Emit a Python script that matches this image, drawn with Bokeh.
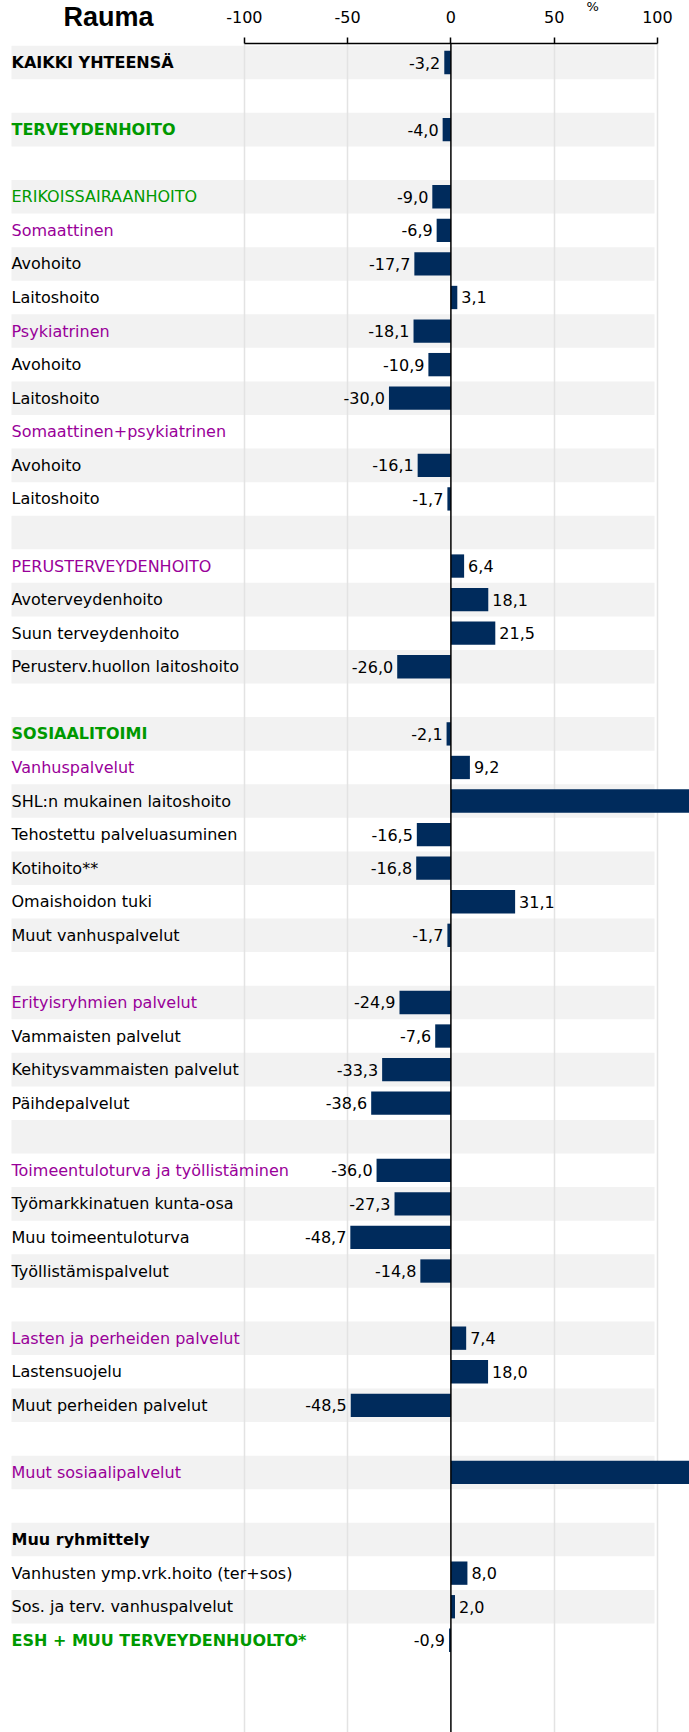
from bokeh.plotting import figure
from bokeh.models import (ColumnDataSource, Range1d, LinearAxis, FixedTicker,
                          Span, Title)
from bokeh.core.properties import value
from bokeh.embed import file_html
from bokeh.resources import INLINE

# ---------------- data ----------------
categories = [
    "KAIKKI YHTEENSÄ", "", "TERVEYDENHOITO", "", "ERIKOISSAIRAANHOITO",
    "Somaattinen", "Avohoito", "Laitoshoito", "Psykiatrinen", "Avohoito",
    "Laitoshoito", "Somaattinen+psykiatrinen", "Avohoito", "Laitoshoito", "",
    "PERUSTERVEYDENHOITO", "Avoterveydenhoito", "Suun terveydenhoito",
    "Perusterv.huollon laitoshoito", "", "SOSIAALITOIMI", "Vanhuspalvelut",
    "SHL:n mukainen laitoshoito", "Tehostettu palveluasuminen", "Kotihoito**",
    "Omaishoidon tuki", "Muut vanhuspalvelut", "", "Erityisryhmien palvelut",
    "Vammaisten palvelut", "Kehitysvammaisten palvelut", "Päihdepalvelut", "",
    "Toimeentuloturva ja työllistäminen", "Työmarkkinatuen kunta-osa",
    "Muu toimeentuloturva", "Työllistämispalvelut", "",
    "Lasten ja perheiden palvelut", "Lastensuojelu", "Muut perheiden palvelut", "",
    "Muut sosiaalipalvelut", "", "Muu ryhmittely",
    "Vanhusten ymp.vrk.hoito (ter+sos)", "Sos. ja terv. vanhuspalvelut",
    "ESH + MUU TERVEYDENHUOLTO*",
]
N = None
values = [
    -3.2, N, -4.0, N, -9.0,
    -6.9, -17.7, 3.1, -18.1, -10.9,
    -30.0, N, -16.1, -1.7, N,
    6.4, 18.1, 21.5, -26.0, N,
    -2.1, 9.2, 130.0, -16.5, -16.8,
    31.1, -1.7, N, -24.9,
    -7.6, -33.3, -38.6, N,
    -36.0, -27.3, -48.7, -14.8, N,
    7.4, 18.0, -48.5, N,
    125.0, N, N,
    8.0, 2.0, -0.9,
]
# label style: k = black, kb = black bold, g = green, gb = green bold, p = purple
styles = [
    "kb", "k", "gb", "k", "g",
    "p", "k", "k", "p", "k",
    "k", "p", "k", "k", "k",
    "p", "k", "k", "k", "k",
    "gb", "p", "k", "k", "k",
    "k", "k", "k", "p",
    "k", "k", "k", "k",
    "p", "k", "k", "k", "k",
    "p", "k", "k", "k",
    "p", "k", "kb",
    "k", "k", "gb",
]
tick_values = [-100, -50, 0, 50, 100]
tick_labels = ["-100", "-50", "0", "50", "100"]
title_text = "Rauma"
unit_text = "%"

# ---------------- layout ----------------
W, H = 689, 1732
ZERO_PX = 450.4
PX_PER_UNIT = 2.065
ROW0_PX = 62.0
ROW_PITCH = 33.57
TOP_PX = 43

x_start = -ZERO_PX / PX_PER_UNIT
x_end = (W - ZERO_PX) / PX_PER_UNIT
y_top = (TOP_PX - ROW0_PX) / ROW_PITCH
y_bottom = (H - ROW0_PX) / ROW_PITCH

def px_to_x(px):
    return (px - ZERO_PX) / PX_PER_UNIT

COLORS = {"k": "#000000", "kb": "#000000", "g": "#009900", "gb": "#009900", "p": "#990099"}
BAR_COLOR = "#002b5c"
FONT = "DejaVu Sans"

p = figure(width=W, height=H, output_backend="svg", toolbar_location=None,
           x_range=Range1d(x_start, x_end), y_range=Range1d(y_bottom, y_top),
           x_axis_location=None, y_axis_location=None,
           min_border_top=TOP_PX, min_border_left=0, min_border_right=0,
           min_border_bottom=0, outline_line_color=None)
p.background_fill_color = "white"
p.border_fill_color = "white"

rows = list(range(len(categories)))

# alternating row bands
band_rows = [r for r in rows if r % 2 == 0]
bands = p.hbar(y=band_rows, left=px_to_x(11), right=px_to_x(654), height=1.0,
               fill_color="#f2f2f2", line_color=None)
bands.level = "image"

# grid
p.ygrid.visible = False
p.xgrid.ticker = FixedTicker(ticks=[t for t in tick_values if t != 0])
p.xgrid.grid_line_color = "#e3e3e3"
p.xgrid.grid_line_width = 1.5

# bars
bar_rows = [r for r in rows if values[r] is not None]
bar_vals = [values[r] for r in bar_rows]
p.hbar(y=bar_rows, left=0, right=bar_vals, height=0.695,
       fill_color=BAR_COLOR, line_color=None)

# value labels (only those inside the visible range)
lab_rows, lab_x, lab_txt, lab_align, lab_off = [], [], [], [], []
for r, v in zip(bar_rows, bar_vals):
    if v > x_end or v < x_start:
        continue
    lab_rows.append(r)
    lab_x.append(v)
    lab_txt.append(f"{v:.1f}".replace(".", ","))
    lab_align.append("right" if v < 0 else "left")
    lab_off.append(-4 if v < 0 else 4)
vsrc = ColumnDataSource(dict(y=lab_rows, x=lab_x, t=lab_txt, a=lab_align, o=lab_off))
p.text(x="x", y="y", text="t", source=vsrc, text_align="a", x_offset="o",
       text_baseline="middle", text_font=value(FONT), text_font_size="16px",
       text_color="#000000")

# category labels
csrc = ColumnDataSource(dict(
    y=rows, x=[px_to_x(11)] * len(rows), t=categories,
    c=[COLORS[s] for s in styles],
    fs=["bold" if s.endswith("b") else "normal" for s in styles],
))
p.text(x="x", y="y", text="t", source=csrc, text_align="left",
       text_baseline="middle", text_font=value(FONT), text_font_size="16px",
       text_color="c", text_font_style="fs")

# zero line
p.add_layout(Span(location=0, dimension="height", line_color="#000000", line_width=1.5))

# top axis
ax = LinearAxis(ticker=FixedTicker(ticks=tick_values), bounds=(-100, 100))
ax.major_label_overrides = {t: s for t, s in zip(tick_values, tick_labels)}
ax.major_tick_in = 0
ax.major_tick_out = 6
ax.minor_tick_line_color = None
ax.axis_line_color = "#000000"
ax.axis_line_width = 1.5
ax.major_tick_line_color = "#000000"
ax.major_tick_line_width = 1.5
ax.major_label_text_font = FONT
ax.major_label_text_font_size = "16px"
ax.major_label_text_color = "#000000"
ax.major_label_standoff = 15
p.add_layout(ax, "above")

# title and unit as zero-height title panels overlapping the axis band
p.add_layout(Title(text=title_text, align="left", offset=63,
                   text_font="Liberation Sans", text_font_size="27px",
                   text_font_style="bold", text_color="#000000",
                   standoff=-48), "above")
p.add_layout(Title(text=unit_text, align="left", offset=586,
                   text_font=FONT, text_font_size="13px",
                   text_font_style="normal", text_color="#000000",
                   standoff=-13), "above")

open("out.html", "w").write(file_html(p, INLINE))
